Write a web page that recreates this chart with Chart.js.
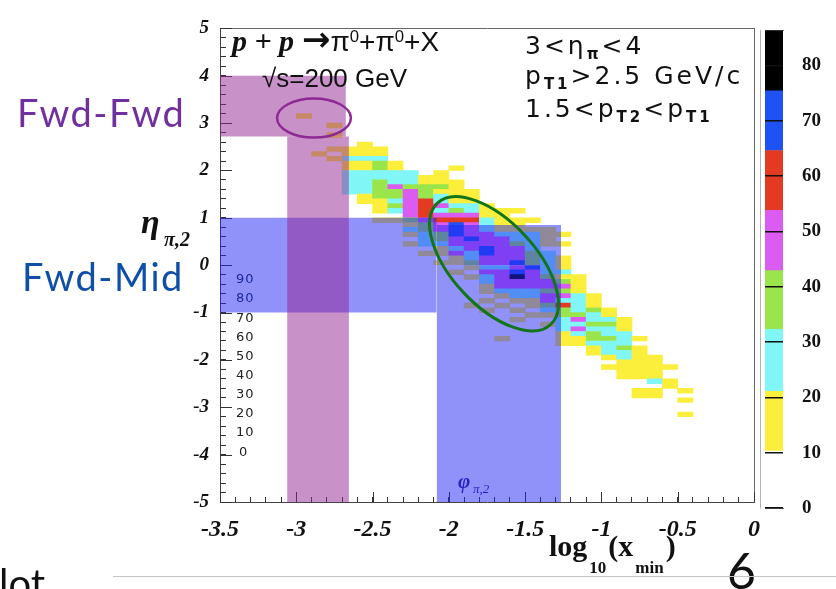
<!DOCTYPE html>
<html>
<head>
<meta charset="utf-8">
<script src="https://cdn.jsdelivr.net/npm/chart.js@4.4.1/dist/chart.umd.min.js"></script>
<style>
  body { margin: 0; background: #fff; }
  #wrap { position: relative; width: 836px; height: 589px; overflow: hidden; }
  canvas { position: absolute; top: 0; }
  #main { left: 0; }
  #zbar { left: 760px; }
  .t { position: absolute; white-space: nowrap; line-height: 1; }
  .sup { font-size: 0.6em; position: relative; top: -0.55em; }
  .sub { font-size: 0.6em; position: relative; top: 0.3em; font-weight: bold; }
  .lsub { font-size: 17px; position: relative; top: 17px; margin: 0 2px; }
  .arrow { font: bold 34px 'DejaVu Sans'; line-height: 0; }
  .num { position: absolute; left: 236px; font: 13px 'DejaVu Sans'; line-height: 1; color: #222; letter-spacing: 1px; }
</style>
</head>
<body>
<div id="wrap">
  <canvas id="main" width="836" height="589"></canvas>
  <canvas id="zbar" width="76" height="589"></canvas>

  <div class="t" style="left:232px;top:24px;font:28px 'Liberation Sans';color:#111;">
    <span style="font:italic bold 30px 'Liberation Serif'">p + p</span> <span class="arrow">→</span>π<span class="sup">0</span>+π<span class="sup">0</span>+X</div>
  <div class="t" style="left:262px;top:63px;font:26px 'Liberation Sans';color:#111;">√s=200 GeV</div>

  <div class="t" style="left:525px;top:31px;font:25px 'DejaVu Sans';letter-spacing:3px;color:#111;">3&lt;η<span class="sub">π</span>&lt;4</div>
  <div class="t" style="left:525px;top:61px;font:25px 'DejaVu Sans';letter-spacing:3px;color:#111;">p<span class="sub">T1</span>&gt;2.5 GeV/c</div>
  <div class="t" style="left:525px;top:94px;font:25px 'DejaVu Sans';letter-spacing:3px;color:#111;">1.5&lt;p<span class="sub">T2</span>&lt;p<span class="sub">T1</span></div>

  <div class="t" style="left:17px;top:89px;font:38px Lato;letter-spacing:1.5px;color:#7030a0;">Fwd-Fwd</div>
  <div class="t" style="left:22px;top:253px;font:38px Lato;letter-spacing:1.5px;color:#0f4fa8;">Fwd-Mid</div>

  <div class="t" style="left:141px;top:203px;font:italic bold 34px 'Liberation Serif';color:#111;">η</div>
  <div class="t" style="left:164px;top:228px;font:italic bold 20px 'Liberation Serif';color:#111;">π,2</div>

  <div class="t" style="left:458px;top:469px;font:italic bold 21px 'Liberation Serif';color:#2424c4;">φ</div>
  <div class="t" style="left:473px;top:481px;font:italic 13px 'Liberation Serif';color:#2424c4;">π,2</div>

  <div class="num" style="top:272px;color:#1c2a9c;">90</div>
  <div class="num" style="top:291px;color:#1c2a9c;">80</div>
  <div class="num" style="top:311px;">70</div>
  <div class="num" style="top:330px;">60</div>
  <div class="num" style="top:349px;">50</div>
  <div class="num" style="top:368px;">40</div>
  <div class="num" style="top:387px;">30</div>
  <div class="num" style="top:406px;">20</div>
  <div class="num" style="top:425px;">10</div>
  <div class="num" style="top:445px;left:239px;">0</div>

  <div class="t" style="left:549px;top:529px;font:bold 30px 'Liberation Serif';color:#111;">log<span class="lsub">10</span>(x<span class="lsub">min</span>)</div>

  <div class="t" style="left:727px;top:540px;font:50px Lato;color:#111;">6</div>
  <div class="t" style="left:-1px;top:559px;font:40px Lato;color:#111;">lot</div>
  <div style="position:absolute;left:113px;top:576px;width:723px;height:1px;background:#c4c4c4;"></div>
</div>

<script>
// histogram binning: one column per log10(x_min) bin, rows of 0.1 in eta going down from colTop
const ETA_BIN = 0.1;
const xCenters = [-2.95, -2.85, -2.75, -2.65, -2.55, -2.45, -2.35, -2.25, -2.15, -2.05,
                  -1.95, -1.85, -1.75, -1.65, -1.55, -1.45, -1.35, -1.25, -1.15, -1.05,
                  -0.95, -0.85, -0.75, -0.65, -0.55, -0.45];
const colTop = [3.2, 2.4, 3.0, 2.5, 2.6, 2.5, 2.2, 2.0, 1.9, 2.0,
                2.1, 1.6, 1.3, 1.2, 1.2, 1.0, 0.8, 0.7, -0.2, -0.6,
                -0.9, -1.1, -1.5, -1.9, -2.1, -2.6];
const counts = [
  [15],
  [15],
  [15, 0, 15, 0, 0, 15, 0, 15],
  [15, 15, 26, 15, 15, 26, 26, 26, 26, 26],
  [15, 15, 15, 26, 15, 15, 26, 26, 26, 26, 26, 15, 15],
  [15, 15, 26, 37, 37, 26, 26, 37, 37, 37, 37, 15, 15, 15, 0, 15],
  [15, 15, 26, 26, 26, 48, 37, 37, 26, 37, 26, 0, 15],
  [26, 26, 26, 37, 48, 48, 48, 48, 48, 48, 37, 15, 26, 15, 0, 15],
  [15, 15, 37, 37, 37, 59, 59, 59, 59, 48, 37, 37, 26, 26, 26, 0, 15],
  [15, 15, 15, 37, 15, 26, 26, 48, 26, 48, 59, 48, 48, 37, 37, 26, 15, 15, 0, 15],
  [15, 0, 0, 15, 15, 15, 15, 15, 26, 37, 48, 59, 70, 70, 70, 48, 48, 26, 48, 15, 15, 0, 15],
  [15, 15, 15, 26, 26, 48, 59, 48, 48, 48, 70, 48, 48, 26, 26, 37, 15, 0, 15, 0, 0, 0, 0, 0, 15],
  [15, 15, 15, 26, 26, 26, 48, 48, 48, 70, 70, 48, 48, 26, 48, 26, 26, 15, 15, 0, 15, 0, 15],
  [15, 15, 15, 15, 15, 26, 48, 48, 48, 48, 48, 48, 26, 48, 48, 48, 48, 26, 15, 0, 15, 0, 0, 0, 0, 0, 0, 15],
  [15, 0, 15, 15, 15, 26, 26, 37, 48, 48, 48, 70, 48, 70, 80, 48, 48, 26, 26, 15, 0, 15, 0, 15],
  [15, 0, 15, 26, 26, 26, 26, 37, 37, 37, 70, 48, 48, 48, 48, 26, 26, 15, 15, 0, 15],
  [15, 15, 15, 15, 0, 26, 26, 26, 26, 26, 37, 48, 48, 37, 48, 48, 37, 26, 15, 0, 15],
  [15, 0, 15, 0, 0, 15, 15, 15, 26, 15, 37, 48, 37, 48, 26, 59, 37, 37, 26, 26, 26, 15, 15, 15],
  [15, 15, 15, 15, 26, 26, 26, 26, 37, 48, 26, 48, 26, 15, 15],
  [15, 15, 15, 37, 26, 26, 37, 26, 37, 37, 26, 15, 15],
  [15, 15, 26, 37, 26, 26, 37, 26, 26, 26, 15, 0, 15],
  [15, 15, 15, 26, 26, 26, 37, 26, 26, 15, 15, 15, 15],
  [15, 0, 15, 15, 15, 15, 15, 15, 15, 0, 0, 15, 15],
  [15, 15, 15, 15, 15, 26, 0, 15, 15],
  [15, 0, 0, 15, 15],
  [15, 0, 15, 0, 0, 15]
];

// colour scale (z axis)
const levelEdges = [0, 10.3, 21.1, 32.3, 42.9, 53.8, 64.6, 75.4, 86.3];
const levelColors = ['#ffffff', '#fbef3c', '#80f6f6', '#9be54c', '#db5cf0', '#e33b22', '#1f52f2', '#000000'];

// shaded acceptance regions
const midBandX = [-3.5, -2.08], midBandEta = [-1, 1];
const midStripX = [-2.08, -1.265], midStripEta = [-5, 0.85];
const fwdBandX = [-3.5, -2.675], fwdBandEta = [2.72, 4];
const fwdStripX = [-3.06, -2.655], fwdStripEta = [-5, 2.72];

const rings = [
  { cx: -2.884, cy: 3.107, rx: 0.242, ry: 0.128, rot: 0, color: '#8e2a94', width: 2.5 },
  { cx: -1.704, cy: 0.03, rx: 0.544, ry: 0.275, rot: 47, color: '#13741a', width: 3 }
];

const colorFor = (z) => {
  for (let i = 0; i < levelColors.length; i++) {
    if (z >= levelEdges[i] && z < levelEdges[i + 1]) return levelColors[i];
  }
  return levelColors[levelColors.length - 1];
};

// merge runs of equal counts in a column into one floating bar
const cells = [];
const cellColors = [];
xCenters.forEach((xc, i) => {
  const col = counts[i];
  let j = 0;
  while (j < col.length) {
    let k = j;
    while (k + 1 < col.length && col[k + 1] === col[j]) k++;
    if (col[j] > 0) {
      cells.push({ x: xc, y: [colTop[i] - (k + 1) * ETA_BIN, colTop[i] - j * ETA_BIN] });
      cellColors.push(colorFor(col[j]));
    }
    j = k + 1;
  }
});

const region = (xs, etas, color) => ({
  type: 'line',
  data: [{ x: xs[0], y: etas[1] }, { x: xs[1], y: etas[1] }],
  fill: { value: etas[0] },
  backgroundColor: color,
  borderColor: 'transparent',
  borderWidth: 0,
  pointRadius: 0,
  xAxisID: 'x',
  yAxisID: 'y'
});

const PINK = 'rgba(145,35,145,0.5)';
const BLUE = 'rgba(35,35,245,0.5)';

const isHalf = (v) => Math.abs(v * 2 - Math.round(v * 2)) < 1e-6;
const isInt = (v) => Math.abs(v - Math.round(v)) < 1e-6;

const majorTicks = {
  id: 'majorTicks',
  beforeDatasetsDraw(chart) {
    const { ctx, chartArea, scales: { x, y } } = chart;
    ctx.save();
    ctx.strokeStyle = '#333';
    ctx.lineWidth = 1;
    ctx.beginPath();
    x.ticks.forEach(t => {
      if (!isHalf(t.value)) return;
      const px = Math.round(x.getPixelForValue(t.value)) + 0.5;
      ctx.moveTo(px, chartArea.bottom);
      ctx.lineTo(px, chartArea.bottom - 10);
    });
    y.ticks.forEach(t => {
      if (!isInt(t.value)) return;
      const py = Math.round(y.getPixelForValue(t.value)) + 0.5;
      ctx.moveTo(chartArea.left, py);
      ctx.lineTo(chartArea.left + 12, py);
    });
    ctx.stroke();
    ctx.restore();
  }
};

const ringPlugin = {
  id: 'rings',
  afterDatasetsDraw(chart) {
    const { ctx, scales: { x, y } } = chart;
    const unit = Math.abs(x.getPixelForValue(1) - x.getPixelForValue(0));
    rings.forEach(r => {
      ctx.save();
      ctx.beginPath();
      ctx.ellipse(x.getPixelForValue(r.cx), y.getPixelForValue(r.cy), r.rx * unit, r.ry * unit,
                  r.rot * Math.PI / 180, 0, 2 * Math.PI);
      ctx.strokeStyle = r.color;
      ctx.lineWidth = r.width;
      ctx.stroke();
      ctx.restore();
    });
  }
};

const tickFont = { family: 'Liberation Serif', style: 'italic', weight: 'bold' };
const frameAxis = (pos) => ({
  position: pos,
  type: 'linear',
  ticks: { display: false },
  grid: { drawOnChartArea: false, drawTicks: false },
  border: { display: true, color: '#666' }
});

new Chart(document.getElementById('main'), {
  type: 'bar',
  data: {
    datasets: [
      region(fwdBandX, fwdBandEta, PINK),
      region(fwdStripX, fwdStripEta, PINK),
      region(midBandX, midBandEta, BLUE),
      region(midStripX, midStripEta, BLUE),
      {
        type: 'bar',
        data: cells,
        backgroundColor: cellColors,
        borderWidth: 0,
        barPercentage: 1,
        categoryPercentage: 1,
        grouped: false,
        xAxisID: 'x',
        yAxisID: 'y'
      }
    ]
  },
  options: {
    responsive: false,
    animation: false,
    events: [],
    layout: { padding: { left: 180, top: 14, right: 82, bottom: 47 } },
    plugins: { legend: { display: false }, tooltip: { enabled: false } },
    scales: {
      x: {
        type: 'linear', position: 'bottom', min: -3.5, max: 0, offset: false,
        grid: { drawOnChartArea: false, tickLength: -5, tickColor: '#333', offset: false },
        border: { display: true, color: '#444' },
        ticks: {
          stepSize: 0.1, autoSkip: false, maxRotation: 0, minRotation: 0, maxTicksLimit: 100,
          padding: 18, color: '#111', font: { ...tickFont, size: 24 },
          callback: (v) => isHalf(v) ? String(v) : ''
        },
        afterFit: (s) => { s.height = 40; }
      },
      y: {
        type: 'linear', position: 'left', min: -5, max: 5,
        grid: { drawOnChartArea: false, tickLength: -6, tickColor: '#333' },
        border: { display: true, color: '#444' },
        ticks: {
          stepSize: 0.2, autoSkip: false, maxTicksLimit: 100,
          padding: 17, color: '#111', font: { ...tickFont, size: 19 },
          callback: (v) => isInt(v) ? String(Math.round(v)) : ''
        },
        afterFit: (s) => { s.width = 40; }
      },
      xTop: { ...frameAxis('top'), min: -3.5, max: 0, afterFit: (s) => { s.height = 0; } },
      yRight: { ...frameAxis('right'), min: -5, max: 5, afterFit: (s) => { s.width = 0; } }
    }
  },
  plugins: [majorTicks, ringPlugin]
});

// colour bar
const bandSets = levelColors.map((c, i) => ({
  data: [[levelEdges[i], levelEdges[i + 1]]],
  backgroundColor: c,
  borderWidth: 0,
  barPercentage: 1,
  categoryPercentage: 1,
  grouped: false
}));

new Chart(document.getElementById('zbar'), {
  type: 'bar',
  data: { labels: [''], datasets: bandSets },
  options: {
    responsive: false,
    animation: false,
    events: [],
    layout: { padding: { left: 5, top: 14, right: 0, bottom: 81 } },
    plugins: { legend: { display: false }, tooltip: { enabled: false } },
    scales: {
      x: {
        ticks: { display: false },
        grid: { display: false, drawTicks: false },
        border: { display: true, color: '#666' },
        afterFit: (s) => { s.height = 0; }
      },
      xTop: {
        type: 'category', position: 'top',
        ticks: { display: false },
        grid: { display: false, drawTicks: false },
        border: { display: true, color: '#666' },
        afterFit: (s) => { s.height = 0; }
      },
      y: {
        position: 'right', min: 0, max: levelEdges[levelEdges.length - 1],
        ticks: {
          stepSize: 10, includeBounds: false, padding: 19, color: '#111',
          font: { family: 'Liberation Serif', weight: 'bold', size: 19 }
        },
        grid: { color: '#111', lineWidth: 1.5, drawTicks: false, z: 1 },
        border: { display: true, color: '#666' },
        afterFit: (s) => { s.width = 53; }
      },
      yLeft: {
        ...frameAxis('left'), min: 0, max: 1,
        afterFit: (s) => { s.width = 0; }
      }
    }
  }
});
</script>
</body>
</html>
